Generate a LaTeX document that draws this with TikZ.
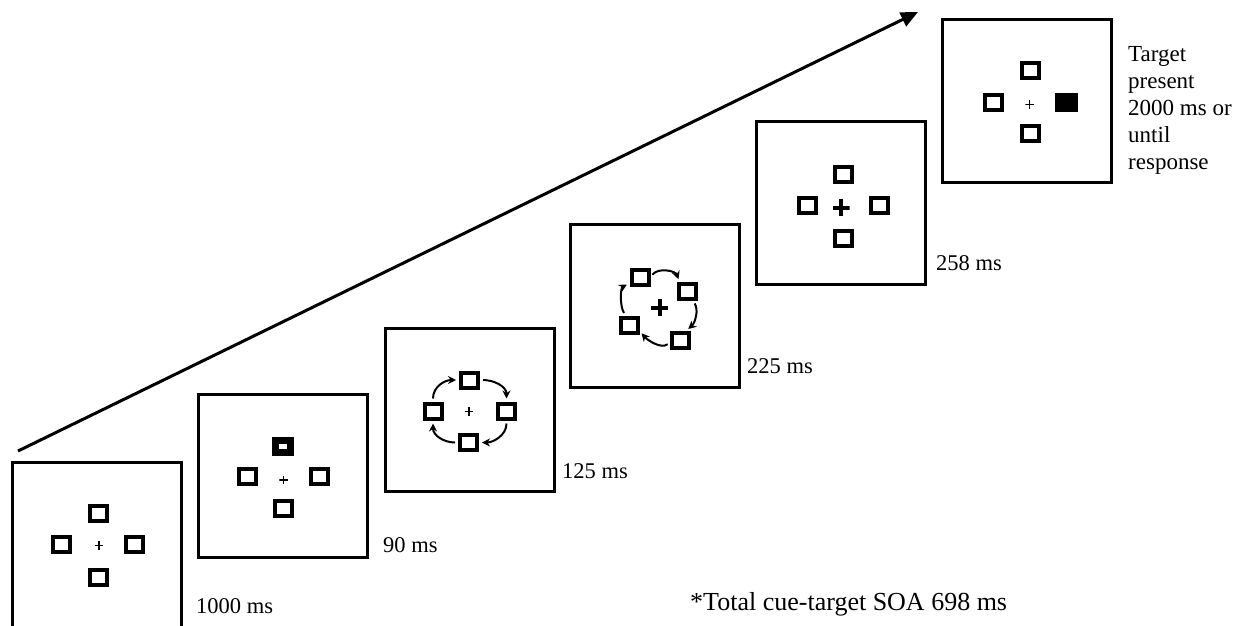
\documentclass[tikz,border=0pt]{standalone}
\usepackage{fontspec}
\setmainfont{Liberation Serif}
\usetikzlibrary{arrows.meta,calc}

\begin{document}
\begin{tikzpicture}[x=1pt,y=-1pt,
  panel/.style={draw, line width=3pt, minimum width=169pt, minimum height=163pt, inner sep=0pt},
  sq/.style={draw, fill=white, line width=4pt, minimum width=17pt, minimum height=15pt, inner sep=0pt},
  cuesq/.style={draw, fill=white, line width=7pt, minimum width=15pt, minimum height=12pt, inner sep=0pt},
  targetsq/.style={fill=black, minimum width=23pt, minimum height=19pt, inner sep=0pt},
  crossmark/.style={minimum size=#1, inner sep=0pt,
    path picture={\draw
      (path picture bounding box.north) -- (path picture bounding box.south)
      (path picture bounding box.west) -- (path picture bounding box.east);}},
  fix/.style={crossmark=8.5pt, line width=1.5pt},
  boldfix/.style={crossmark=17pt, line width=4pt},
  carrow/.style={line width=2pt, -{Stealth[length=8pt,width=8pt]}, shorten <=3pt, shorten >=3pt},
  timelabel/.style={inner sep=0pt, anchor=base west, font=\fontsize{22.5}{27}\selectfont},
  timeline/.style={line width=3pt, -{Triangle[length=17pt,width=15pt]}}
]
\useasboundingbox (0,0) rectangle (1246,625);
\clip (0,0) rectangle (1246,625);

% time axis
\coordinate (tstart) at (18,451);
\coordinate (tend) at (918,12);
\draw[timeline] (tstart) -- (tend);

% frame 1: fixation display (runs off the lower edge)
\node[panel, minimum height=175pt] (p1) at (97,549.5) {};
\node[sq] (t1) at (98.5,513) {};
\node[sq] (l1) at (61.5,544.5) {};
\node[sq] (r1) at (134,544.5) {};
\node[sq] (b1) at (98.5,577) {};
\node[fix] (f1) at (99,545.5) {};
\node[timelabel] (d1) at (196,613) {1000 ms};

% frame 2: cue
\node[panel] (p2) at (282.5,476) {};
\node[cuesq] (t2) at (283,446.5) {};
\node[sq] (l2) at (247.5,476) {};
\node[sq] (r2) at (319.5,476) {};
\node[sq] (b2) at (283.5,508.5) {};
\node[fix] (f2) at (283.5,480) {};
\node[timelabel] (d2) at (383,552) {90 ms};

% frame 3: rotation starts
\node[panel] (p3) at (469.5,410) {};
\node[sq] (t3) at (469.5,380) {};
\node[sq] (l3) at (433,411) {};
\node[sq] (r3) at (506.5,411) {};
\node[sq] (b3) at (468.5,442.5) {};
\node[fix] (f3) at (469,411.5) {};
\draw[carrow] (l3.north) .. controls ($(l3.north)+(0,-15)$) and ($(t3.west)+(-14,0)$) .. (t3.west);
\draw[carrow] (t3.east) .. controls ($(t3.east)+(14,0)$) and ($(r3.north)+(0,-15)$) .. (r3.north);
\draw[carrow] (r3.south) .. controls ($(r3.south)+(0,15)$) and ($(b3.east)+(14,0)$) .. (b3.east);
\draw[carrow] (b3.west) .. controls ($(b3.west)+(-14,0)$) and ($(l3.south)+(0,15)$) .. (l3.south);
\node[timelabel] (d3) at (562,478) {125 ms};

% frame 4: rotated placeholders
\node[panel] (p4) at (655,306) {};
\node[sq] (t4) at (640,277) {};
\node[sq] (r4) at (687.5,291.5) {};
\node[sq] (b4) at (680.5,340.5) {};
\node[sq] (l4) at (629,325) {};
\node[boldfix] (f4) at (659.5,307.5) {};
\draw[carrow] (t4.east) .. controls ($(t4.east)+(8,-10)$) and ($(r4.130)+(-4,-11)$) .. (r4.130);
\draw[carrow] (r4.-60) .. controls ($(r4.-60)+(6,9)$) and ($(b4.60)+(9,-8)$) .. (b4.60);
\draw[carrow] (b4.190) .. controls ($(b4.190)+(-9,7)$) and ($(l4.-30)+(8,9)$) .. (l4.-30);
\draw[carrow] (l4.110) .. controls ($(l4.110)+(-6,-10)$) and ($(t4.210)+(-9,5)$) .. (t4.210);
\node[timelabel] (d4) at (747,373) {225 ms};

% frame 5: back in place
\node[panel] (p5) at (840.5,203) {};
\node[sq] (t5) at (843.5,174.5) {};
\node[sq] (l5) at (807.5,205.5) {};
\node[sq] (r5) at (879,205.5) {};
\node[sq] (b5) at (843.5,238.5) {};
\node[boldfix] (f5) at (841,207.5) {};
\node[timelabel] (d5) at (936,270) {258 ms};

% frame 6: target
\node[panel] (p6) at (1027,100.5) {};
\node[sq] (t6) at (1030.5,70.5) {};
\node[sq] (l6) at (993.5,102.5) {};
\node[targetsq] (r6) at (1066.5,102.5) {};
\node[sq] (b6) at (1030.5,133.5) {};
\node[fix] (f6) at (1029.5,104.5) {};
\node[inner sep=0pt, anchor=north west, align=left, font=\fontsize{23}{27}\selectfont] (d6) at (1128,46)
  {Target\\present\\2000 ms or\\until\\response};

% note
\node[inner sep=0pt, anchor=base west, font=\fontsize{26}{30}\selectfont] (soa) at (690,610)
  {*Total cue-target SOA 698 ms};
\end{tikzpicture}
\end{document}
